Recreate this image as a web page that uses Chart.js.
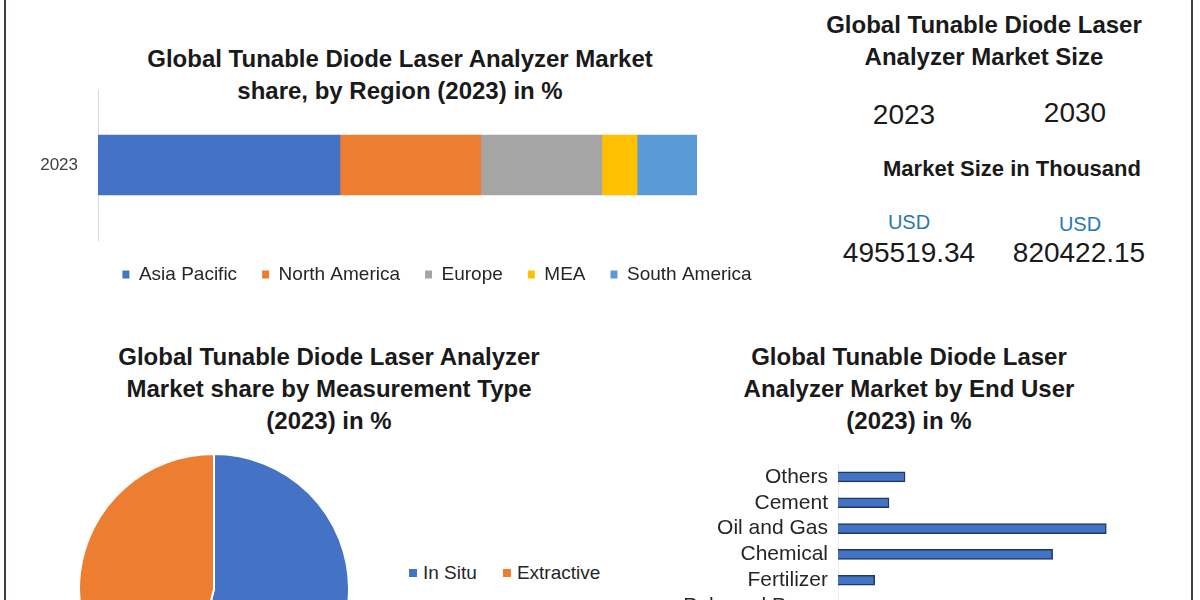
<!DOCTYPE html>
<html>
<head>
<meta charset="utf-8">
<script src="https://cdn.jsdelivr.net/npm/chart.js@4.4.0/dist/chart.umd.min.js"></script>
<style>
    html, body { margin: 0; padding: 0; width: 1200px; height: 600px; overflow: hidden; background: #fff; }
    body { position: relative; font-family: 'Liberation Sans', Arial, sans-serif; color: #1a1a1a; }
    .t { position: absolute; transform: translate(-50%, -50%); white-space: nowrap; text-align: center; }
    .h { font-weight: bold; font-size: 24px; line-height: 32px; }
    .num { font-size: 28px; }
    .usd { font-size: 20px; color: #2878b5; }
    .edge { position: absolute; top: 0; width: 2px; height: 600px; background: #3a3f4a; }
    canvas { position: absolute; }
    #pieLegend { position: absolute; left: 409px; top: 562px; font-size: 19px; color: #262626; display: flex; align-items: center; }
    #pieLegend span.box { display: inline-block; width: 8px; height: 8px; margin-right: 6px; }
    #pieLegend span.item { display: flex; align-items: center; margin-right: 26px; }
</style>
</head>
<body>
<div class="edge" style="left:4px"></div>
<div class="edge" style="left:1191px"></div>

<div class="t h" style="left:400px; top:75px">Global Tunable Diode Laser Analyzer Market<br>share, by Region (2023) in %</div>

<div class="t h" style="left:984px; top:41px">Global Tunable Diode Laser<br>Analyzer Market Size</div>
<div class="t num" style="left:904px; top:115px">2023</div>
<div class="t num" style="left:1075px; top:113px">2030</div>
<div class="t h" style="left:1012px; top:169px; font-size:22px">Market Size in Thousand</div>
<div class="t usd" style="left:909px; top:222px">USD</div>
<div class="t usd" style="left:1080px; top:224px">USD</div>
<div class="t num" style="left:909px; top:253px" id="size2023"></div>
<div class="t num" style="left:1079px; top:253px" id="size2030"></div>

<div class="t h" style="left:329px; top:389px">Global Tunable Diode Laser Analyzer<br>Market share by Measurement Type<br>(2023) in %</div>
<div class="t h" style="left:909px; top:389px">Global Tunable Diode Laser<br>Analyzer Market by End User<br>(2023) in %</div>

<canvas id="regionChart" width="874" height="214" style="left:0; top:80px"></canvas>
<canvas id="typeChart" width="272" height="272" style="left:78px; top:453px"></canvas>
<div id="pieLegend"></div>
<canvas id="userChart" width="491" height="155" style="left:660px; top:464px"></canvas>

<script>
const regionYears = ['2023'];
const regions = ['Asia Pacific', 'North America', 'Europe', 'MEA', 'South America'];
const regionShares = [40.4, 23.5, 20.2, 5.9, 10.0];
const regionColors = ['#4472c4', '#ed7d31', '#a5a5a5', '#ffc000', '#5b9bd5'];

const sizeYears = ['2023', '2030'];
const marketSizes = ['495519.34', '820422.15'];

const measurementTypes = ['In Situ', 'Extractive'];
const measurementShares = [54, 46];
const measurementColors = ['#4472c4', '#ed7d31'];

const endUsers = ['Others', 'Cement', 'Oil and Gas', 'Chemical', 'Fertilizer', 'Pulp and Paper'];
const endUserShares = [7.5, 5.7, 30, 24, 4.1, 6];

document.getElementById('size2023').textContent = marketSizes[0];
document.getElementById('size2030').textContent = marketSizes[1];

const labelFont = { family: "'Liberation Sans', Arial, sans-serif" };

// y axes: fixed width and no extra label padding above/below the bars
const fixAxis = width => scale => {
    scale.width = width;
    scale.paddingTop = 0;
    scale.paddingBottom = 0;
};

new Chart(document.getElementById('regionChart'), {
    type: 'bar',
    data: {
        labels: regionYears,
        datasets: regions.map((name, i) => ({
            label: name,
            data: [regionShares[i]],
            backgroundColor: regionColors[i],
            borderWidth: 0,
            barThickness: 60
        }))
    },
    options: {
        indexAxis: 'y',
        responsive: false,
        animation: false,
        layout: { padding: { top: 10 } },
        plugins: {
            legend: {
                position: 'bottom',
                labels: {
                    boxWidth: 7,
                    boxHeight: 8,
                    padding: 25,
                    color: '#262626',
                    font: { ...labelFont, size: 19 }
                }
            },
            tooltip: { enabled: false }
        },
        scales: {
            x: { stacked: true, min: 0, max: 100, display: false },
            y: {
                stacked: true,
                grid: { display: false, drawTicks: false },
                border: { display: true, color: '#d9d9d9', width: 1 },
                ticks: { padding: 20, color: '#404040', font: { ...labelFont, size: 17 } },
                afterFit: fixAxis(98)
            },
            spacer: {
                type: 'category',
                position: 'right',
                grid: { display: false },
                border: { display: false },
                ticks: { display: false },
                afterFit: fixAxis(177)
            }
        }
    }
});

new Chart(document.getElementById('typeChart'), {
    type: 'pie',
    data: {
        labels: measurementTypes,
        datasets: [{
            data: measurementShares,
            backgroundColor: measurementColors,
            borderColor: '#ffffff',
            borderWidth: 2
        }]
    },
    options: {
        responsive: false,
        animation: false,
        plugins: { legend: { display: false }, tooltip: { enabled: false } }
    }
});

const pieLegend = document.getElementById('pieLegend');
measurementTypes.forEach((name, i) => {
    const item = document.createElement('span');
    item.className = 'item';
    item.innerHTML = '<span class="box" style="background:' + measurementColors[i] + '"></span>' + name;
    pieLegend.appendChild(item);
});

new Chart(document.getElementById('userChart'), {
    type: 'bar',
    data: {
        labels: endUsers,
        datasets: [{
            data: endUserShares,
            backgroundColor: '#4472c4',
            borderColor: '#1f3864',
            borderWidth: 1.5,
            barThickness: 10
        }]
    },
    options: {
        indexAxis: 'y',
        responsive: false,
        animation: false,
        plugins: { legend: { display: false }, tooltip: { enabled: false } },
        scales: {
            x: { min: 0, max: 35, display: false },
            y: {
                grid: { display: false, drawTicks: false },
                border: { display: true, color: '#ececec', width: 1 },
                ticks: { autoSkip: false, padding: 10, color: '#262626', font: { ...labelFont, size: 21, lineHeight: 1 } },
                afterFit: fixAxis(178)
            }
        }
    }
});
</script>
</body>
</html>
